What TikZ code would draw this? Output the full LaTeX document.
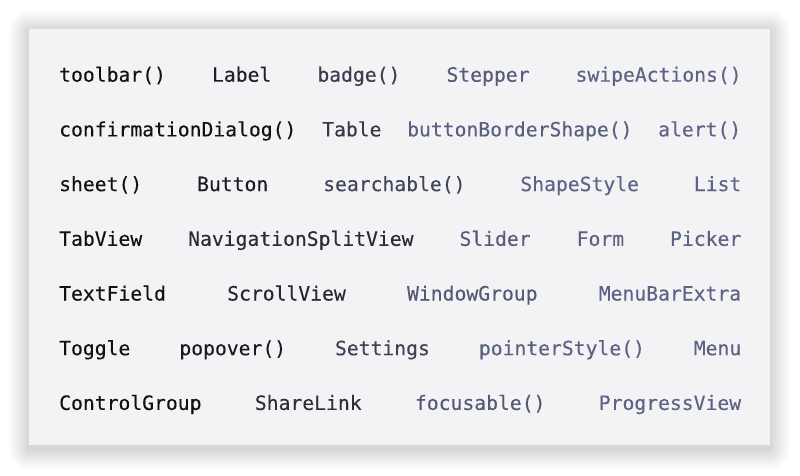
\documentclass[tikz,border=0pt]{standalone}
\usepackage{fontspec}
\setmonofont[FakeBold=0.2]{DejaVu Sans Mono}
\usepackage{tikz}
\definecolor{inkdark}{HTML}{111111}
\definecolor{inkslate}{HTML}{5D6384}
\definecolor{panelgray}{HTML}{F3F3F6}
\tikzset{
  word/.style={anchor=base west, inner sep=0pt,
    font=\ttfamily\fontsize{19.7}{22}\selectfont},
}
\begin{document}
\begin{tikzpicture}[x=1pt,y=-1pt]
            \useasboundingbox [fill=white] (0,0) rectangle (800,475);
            % soft shadow round the panel
            \foreach \i in {1,...,20}
                \fill [black,opacity=0.009,rounded corners=\i pt] (29-\i,31-\i) rectangle (770+\i,449+\i);
            \fill [panelgray] (29,29) coordinate (panel) rectangle (770,445);
            % row 1
            \foreach \x/\p/\t [count=\i] in {59/0/toolbar(), 211.8/18/Label, 317.2/52/badge(),
                446.3/90/Stepper, 575.4/100/swipeActions()}
                \node [word,text=inkslate!\p!inkdark] (r1-\i) at (\x,81.7) {\t};
            % row 2
            \foreach \x/\p/\t [count=\i] in {59/0/confirmationDialog(), 322/48/Table,
                407/95/buttonBorderShape(), 658/100/alert()}
                \node [word,text=inkslate!\p!inkdark] (r2-\i) at (\x,136.4) {\t};
            % row 3
            \foreach \x/\p/\t [count=\i] in {59/0/sheet(), 196.9/12/Button, 323/65/searchable(),
                520.2/100/ShapeStyle, 693.7/100/List}
                \node [word,text=inkslate!\p!inkdark] (r3-\i) at (\x,191.1) {\t};
            % row 4
            \foreach \x/\p/\t [count=\i] in {59/0/TabView, 188/32/NavigationSplitView,
                459.3/92/Slider, 576.5/100/Form, 669.9/100/Picker}
                \node [word,text=inkslate!\p!inkdark] (r4-\i) at (\x,245.8) {\t};
            % row 5
            \foreach \x/\p/\t [count=\i] in {59/0/TextField, 227/28/ScrollView,
                406.9/88/WindowGroup, 598.6/100/MenuBarExtra}
                \node [word,text=inkslate!\p!inkdark] (r5-\i) at (\x,300.5) {\t};
            % row 6
            \foreach \x/\p/\t [count=\i] in {59/0/Toggle, 179.2/12/popover(), 334.8/58/Settings,
                478.7/97/pointerStyle(), 693.6/100/Menu}
                \node [word,text=inkslate!\p!inkdark] (r6-\i) at (\x,355.2) {\t};
            % row 7
            \foreach \x/\p/\t [count=\i] in {59/0/ControlGroup, 254.7/36/ShareLink,
                414.8/88/focusable(), 598.6/100/ProgressView}
                \node [word,text=inkslate!\p!inkdark] (r7-\i) at (\x,409.9) {\t};
        \end{tikzpicture}
\end{document}
